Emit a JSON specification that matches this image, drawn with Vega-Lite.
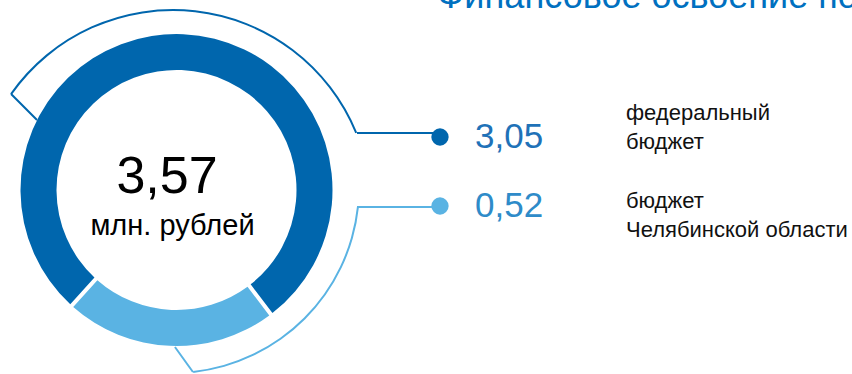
{
  "$schema": "https://vega.github.io/schema/vega-lite/v6.json",
  "width": 852,
  "height": 374,
  "padding": 0,
  "autosize": {"type": "none"},
  "config": {
    "view": {"stroke": null},
    "font": "Liberation Sans",
    "locale": {"number": {"decimal": ",", "thousands": " ", "grouping": [3], "currency": ["", " ₽"]}}
  },
  "data": {
    "values": [
      {"source": "федеральный бюджет", "value": 3.05, "label": "федеральный\nбюджет"},
      {"source": "бюджет Челябинской области", "value": 0.52, "label": "бюджет\nЧелябинской области"}
    ]
  },
  "layer": [
    {
      "mark": {"type": "arc", "x": 176.5, "y": 190, "outerRadius": 156, "innerRadius": 120, "padAngle": 0.02},
      "encoding": {
        "theta": {"field": "value", "type": "quantitative", "stack": true,
          "scale": {"type": "pow", "exponent": 1.583, "domain": [0, 3.57], "range": [3.878, 10.161]}},
        "order": {"field": "value", "sort": "descending"},
        "color": {"field": "source", "type": "nominal", "legend": null,
          "scale": {"domain": ["федеральный бюджет", "бюджет Челябинской области"], "range": ["#0066ad", "#5ab3e3"]}}
      }
    },
    {
      "transform": [{"filter": {"field": "source", "equal": "федеральный бюджет"}}],
      "mark": {"type": "arc", "x": 173, "y": 208, "innerRadius": 197, "outerRadius": 199, "theta": -0.958, "theta2": 1.182},
      "encoding": {"color": {"field": "source", "type": "nominal", "legend": null}}
    },
    {
      "transform": [{"filter": {"field": "source", "equal": "бюджет Челябинской области"}}],
      "mark": {"type": "arc", "x": 173, "y": 187, "innerRadius": 185, "outerRadius": 187, "theta": 1.679, "theta2": 3.033},
      "encoding": {"color": {"field": "source", "type": "nominal", "legend": null}}
    },
    {
      "transform": [{"filter": {"field": "source", "equal": "федеральный бюджет"}}],
      "mark": {"type": "arc", "filled": false, "strokeWidth": 2, "x": 161, "y": 244, "innerRadius": 175.4, "outerRadius": 212.1, "theta": -0.785, "theta2": -0.785},
      "encoding": {"color": {"field": "source", "type": "nominal", "legend": null}}
    },
    {
      "transform": [{"filter": {"field": "source", "equal": "бюджет Челябинской области"}}],
      "mark": {"type": "arc", "filled": false, "strokeWidth": 2, "x": 103, "y": 247, "innerRadius": 123.2, "outerRadius": 154, "theta": 2.518, "theta2": 2.518},
      "encoding": {"color": {"field": "source", "type": "nominal", "legend": null}}
    },
    {
      "mark": {"type": "rule", "x": 357, "x2": 440, "strokeWidth": 2},
      "encoding": {
        "y": {"field": "source", "type": "nominal", "axis": null,
          "scale": {"type": "point", "padding": 0, "domain": ["федеральный бюджет", "бюджет Челябинской области"], "range": [133, 207]}},
        "color": {"field": "source", "type": "nominal", "legend": null}
      }
    },
    {
      "mark": {"type": "point", "filled": true, "opacity": 1, "size": 300, "x": 440},
      "encoding": {
        "y": {"field": "source", "type": "nominal", "axis": null,
          "scale": {"type": "point", "padding": 0, "domain": ["федеральный бюджет", "бюджет Челябинской области"], "range": [137, 206]}},
        "color": {"field": "source", "type": "nominal", "legend": null}
      }
    },
    {
      "mark": {"type": "text", "x": 475, "align": "left", "baseline": "alphabetic", "fontSize": 35},
      "encoding": {
        "y": {"field": "source", "type": "nominal", "axis": null,
          "scale": {"type": "point", "padding": 0, "domain": ["федеральный бюджет", "бюджет Челябинской области"], "range": [148, 217]}},
        "text": {"field": "value", "type": "quantitative", "format": ".2f"},
        "color": {"condition": {"test": "datum.source === 'федеральный бюджет'", "value": "#1f72b8"}, "value": "#2e8bc9"}
      }
    },
    {
      "mark": {"type": "text", "x": 626, "align": "left", "baseline": "alphabetic", "fontSize": 22, "lineBreak": "\n", "lineHeight": 28.5, "color": "#111111"},
      "encoding": {
        "y": {"field": "source", "type": "nominal", "axis": null,
          "scale": {"type": "point", "padding": 0, "domain": ["федеральный бюджет", "бюджет Челябинской области"], "range": [120, 208]}},
        "text": {"field": "label", "type": "nominal"}
      }
    },
    {
      "transform": [{"aggregate": [{"op": "sum", "field": "value", "as": "total"}]}],
      "mark": {"type": "text", "x": 167, "y": 193, "align": "center", "baseline": "alphabetic", "fontSize": 52, "color": "#000000"},
      "encoding": {"text": {"field": "total", "type": "quantitative", "format": ".2f"}}
    },
    {
      "transform": [{"aggregate": [{"op": "count", "as": "n"}]}],
      "mark": {"type": "text", "x": 172.5, "y": 235, "align": "center", "baseline": "alphabetic", "fontSize": 29, "color": "#000000", "text": "млн. рублей"},
      "encoding": {}
    },
    {
      "transform": [{"aggregate": [{"op": "count", "as": "n"}]}],
      "mark": {"type": "text", "x": 437, "y": 8, "align": "left", "baseline": "alphabetic", "fontSize": 36, "color": "#0070c0", "text": "Финансовое освоение по"},
      "encoding": {}
    }
  ],
  "resolve": {"scale": {"y": "independent"}}
}
